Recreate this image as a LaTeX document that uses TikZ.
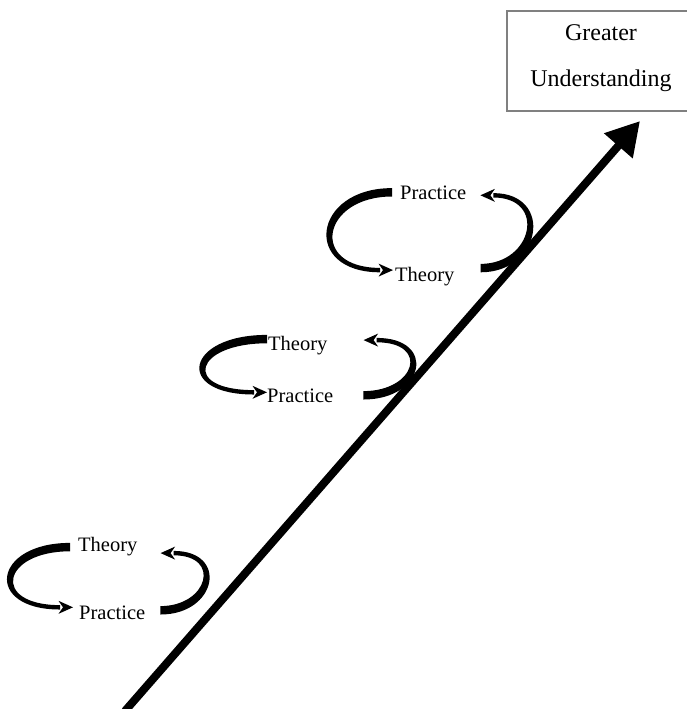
\documentclass[tikz,border=0pt]{standalone}
\usepackage{fontspec}
\setmainfont{Liberation Serif}
\usetikzlibrary{calc,arrows.meta}
\tikzset{
  lbl/.style={inner sep=0pt, anchor=base west, font=\fontsize{20.5}{24}\selectfont},
  boxtxt/.style={inner sep=0pt, align=center, font=\fontsize{24}{46}\selectfont},
  goalbox/.style={draw=black!50, line width=1.3pt, inner sep=0pt},
  mainarrow/.style={line width=8pt, -{Triangle[length=33pt,width=36pt]}}
}
% tapered curved arrow: #1 start point, #2 tip point, #3 signed bulge, #4 arrow direction (1 = right, -1 = left)
\newcommand\tloop[4]{%
  \path #1 coordinate (ls) #2 coordinate (le);
  \pgfmathsetmacro\tlka{#3-(#4)*4.6}%
  \pgfmathsetmacro\tlkb{#3-(#4)*3.6}%
  \pgfmathsetmacro\tlkc{#3+(#4)*3.6}%
  \pgfmathsetmacro\tlkd{#3+(#4)*4.6}%
  \pgfmathsetmacro\tlwa{4.2*(#4)}%
  \pgfmathsetmacro\tlwn{-4.2*(#4)}%
  \pgfmathsetmacro\tlwb{2.2*(#4)}%
  \pgfmathsetmacro\tlwm{-2.2*(#4)}%
  \pgfmathsetmacro\tlhl{-13*(#4)}%
  \pgfmathsetmacro\tlhb{-1.5*(#4)}%
  \pgfmathsetmacro\tlhn{3*(#4)}%
  \path (le) ++(\tlhl,0) coordinate (lb);
  \fill ($(ls)+(0,\tlwn)$) .. controls +(\tlka,0) and +(\tlkb,0) .. ($(lb)+(0,\tlwb)$)
        -- ($(lb)+(0,\tlwm)$) .. controls +(\tlkc,0) and +(\tlkd,0) .. ($(ls)+(0,\tlwa)$) -- cycle;
  \fill (le) -- ($(lb)+(\tlhb,6.5)$) -- ($(lb)+(\tlhn,0)$) -- ($(lb)+(\tlhb,-6.5)$) -- cycle;
}
\begin{document}
\begin{tikzpicture}[x=1pt,y=-1pt]
\useasboundingbox (0,0) rectangle (687,709);
\clip (0,0) rectangle (687,709);

% goal box
\node[goalbox, minimum width=185pt, minimum height=100pt] (gu) at (599.5,61) {};
\node[boxtxt] (gutext) at (601,58.4) {Greater\\Understanding};

% cycle 1 (bottom)
\node[lbl] (t1) at (78,551) {Theory};
\node[lbl] (p1) at (79,619) {Practice};
\tloop{($(t1.west)+(-8,1)$)}{($(p1.west)+(-6,-5)$)}{-73}{1}
\tloop{($(p1.east)+(15,-2)$)}{($(t1.east)+(23,7)$)}{52}{-1}

% cycle 2 (middle)
\node[lbl] (t2) at (268,350) {Theory};
\node[lbl] (p2) at (267,402) {Practice};
\tloop{($(t2.west)+(-1,-6)$)}{($(p2.west)+(0,-3)$)}{-77}{1}
\tloop{($(p2.east)+(30,0)$)}{($(t2.east)+(36,-5)$)}{57}{-1}

% cycle 3 (top)
\node[lbl] (p3) at (400,199) {Practice};
\node[lbl] (t3) at (395,281) {Theory};
\tloop{($(p3.west)+(-8,0)$)}{($(t3.west)+(-2,-6)$)}{-75}{1}
\tloop{($(t3.east)+(26,-8)$)}{($(p3.east)+(14,3)$)}{57}{-1}

% main arrow
\coordinate (mstart) at (125,711);
\coordinate (mtip) at (640,121);
\draw[mainarrow] (mstart) -- (mtip);
\end{tikzpicture}
\end{document}
